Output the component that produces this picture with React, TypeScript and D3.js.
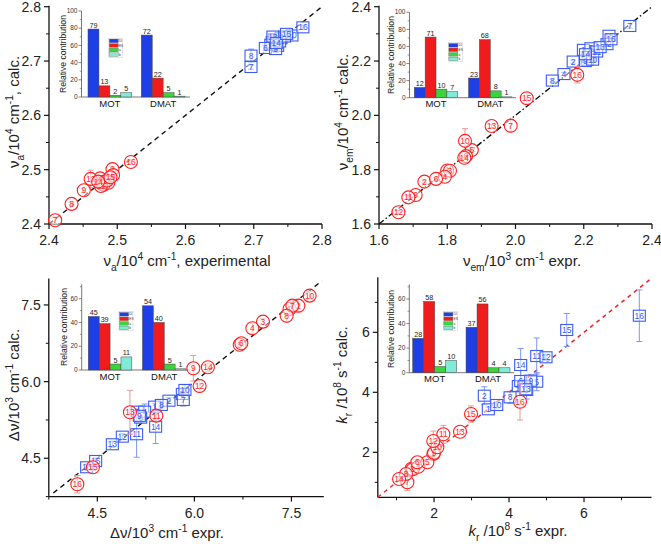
import React from 'react';
import * as d3 from 'd3';

// ---------- data ----------
const compoundLabels = ['1','2','3','4','5','6','7','8','9','10','11','12','13','14','15','16'];

// Panel 1: nu_a (10^4 cm^-1), experimental vs calc.
const p1RedX = [2.478,2.493,2.475,2.482,2.494,2.480,2.409,2.433,2.451,2.487,2.476,2.461,2.485,2.472,2.490,2.520];
const p1RedY = [2.474,2.501,2.484,2.478,2.490,2.472,2.407,2.437,2.462,2.476,2.470,2.483,2.480,2.478,2.486,2.514];
const p1RedErr = [0.004,0.004,0.004,0.004,0.004,0.004,0.006,0.004,0.004,0.005,0.004,0.016,0.004,0.004,0.004,0.004];
const p1BlueX = [2.727,2.730,2.735,2.725,2.740,2.717,2.696,2.696,2.732,2.756,2.738,2.745,2.728,2.733,2.748,2.772];
const p1BlueY = [2.735,2.740,2.728,2.730,2.742,2.724,2.689,2.710,2.722,2.747,2.736,2.745,2.745,2.733,2.750,2.762];
const p1BlueErr = [0.005,0.005,0.005,0.005,0.005,0.005,0.004,0.012,0.006,0.006,0.005,0.005,0.005,0.005,0.005,0.004];

// Panel 2: nu_em
const p2RedX = [1.800,1.733,1.808,1.793,1.872,1.767,1.986,1.855,1.7075,1.852,1.686,1.657,1.930,1.850,2.033,2.181];
const p2RedY = [1.797,1.756,1.796,1.774,1.872,1.766,1.962,1.850,1.707,1.906,1.698,1.643,1.961,1.844,2.063,2.149];
const p2RedErr = [0.006,0.006,0.006,0.006,0.006,0.006,0.02,0.006,0.006,0.045,0.006,0.006,0.006,0.006,0.02,0.03];
const p2BlueX = [2.199,2.169,2.210,2.142,2.221,2.215,2.335,2.108,2.205,2.226,2.238,2.268,2.248,2.205,2.274,2.280];
const p2BlueY = [2.241,2.198,2.205,2.152,2.247,2.215,2.329,2.128,2.200,2.205,2.235,2.262,2.251,2.225,2.293,2.280];
const p2BlueErr = [0.006,0.006,0.006,0.006,0.006,0.006,0.008,0.006,0.006,0.006,0.006,0.006,0.006,0.006,0.006,0.006];

// Panel 3: Stokes shift (10^3 cm^-1)
const p3RedX = [7.47,7.607,7.060,6.896,6.70,6.726,7.514,7.426,5.984,7.781,5.412,6.081,5.004,6.209,4.432,4.191];
const p3RedY = [7.42,7.486,7.173,7.044,6.72,6.750,7.486,7.290,6.261,7.682,5.334,5.915,5.400,6.280,4.324,3.991];
const p3RedErr = [0.08,0.12,0.06,0.1,0.06,0.06,0.1,0.12,0.25,0.08,0.08,0.12,0.43,0.08,0.06,0.17];
const p3BlueX = [5.386,5.607,5.118,5.231,5.814,5.169,5.829,5.489,5.15,5.854,5.107,4.886,4.732,5.401,4.474,4.335];
const p3BlueY = [5.510,5.627,5.412,5.412,5.758,5.295,5.641,5.543,5.33,5.837,4.970,4.923,4.774,5.118,4.447,4.324];
const p3BlueErr = [0.06,0.06,0.06,0.15,0.1,0.1,0.12,0.06,0.06,0.1,0.45,0.06,0.06,0.33,0.06,0.06];

// Panel 4: k_r (10^8 s^-1)
const p4RedX = [1.40,1.98,1.432,1.581,1.821,1.555,1.288,1.253,2.0,2.089,2.249,1.98,2.693,1.067,2.987,4.293];
const p4RedY = [1.45,1.943,1.433,1.52,1.667,1.667,1.0,1.277,1.98,2.167,2.6,2.377,2.687,1.11,3.277,3.687];
const p4RedErr = [0.08,0.08,0.08,0.08,0.08,0.1,0.28,0.08,0.08,0.1,0.3,0.33,0.08,0.08,0.27,0.61];
const p4BlueX = [3.448,3.341,4.472,4.248,4.739,4.311,4.40,4.027,4.579,3.672,4.739,4.987,4.45,4.311,5.539,7.475];
const p4BlueY = [3.433,3.887,4.077,4.21,4.353,4.377,4.20,3.833,4.387,3.577,5.21,5.167,4.10,4.91,6.077,6.553];
const p4BlueErr = [0.08,0.3,0.3,0.15,0.3,0.35,0.2,0.2,0.2,0.1,0.6,0.1,0.2,0.55,0.55,0.86];

// Insets: relative contribution
const insetGroups = ['MOT', 'DMAT'];
const insetSeries = ['DI', 'ES', 'a', 'b'];
const insetColors = ['#1f3fe6', '#ee1c1c', '#3cd43c', '#80ecd8'];
const p1InsetMOT = [79, 13, 2, 5];
const p1InsetDMAT = [72, 22, 5, 1];
const p2InsetMOT = [12, 71, 10, 7];
const p2InsetDMAT = [23, 68, 8, 1];
const p3InsetMOT = [45, 39, 5, 11];
const p3InsetDMAT = [54, 40, 5, 1];
const p4InsetMOT = [28, 58, 5, 10];
const p4InsetDMAT = [37, 56, 4, 4];

// ---------- styles ----------
const FONT = "'Liberation Sans', Arial, sans-serif";
const RED = '#ff1f1f';
const BLUE = '#3a5cf2';
const RED_ERR = '#f39595';
const BLUE_ERR = '#7d97f2';

type Seg = { t: string; k?: 'sub' | 'sup'; it?: boolean };

function Rich({ segs, size }: { segs: Seg[]; size: number }) {
  let cur = 0;
  const out = segs.map((s, i) => {
    const target = s.k === 'sub' ? size * 0.3 : s.k === 'sup' ? -size * 0.42 : 0;
    const dy = target - cur;
    cur = target;
    return (
      <tspan key={i} dy={dy} fontSize={s.k ? size * 0.68 : size} fontStyle={s.it ? 'italic' : 'normal'}>
        {s.t}
      </tspan>
    );
  });
  return <>{out}</>;
}

type InsetCfg = {
  axisX: number; axisEnd: number; y0: number; yTop: number; yMax: number;
  yTicks: number[]; yMinor: number[]; band: [number, number]; pad: number;
  labelX: number; labelY: number; legend: [number, number];
  mot: number[]; dmat: number[];
};

function Inset({ c }: { c: InsetCfg }) {
  const y = d3.scaleLinear().domain([0, c.yMax]).range([c.y0, c.yTop]);
  const g = d3.scaleBand<string>().domain(insetGroups).range(c.band).paddingInner(c.pad).paddingOuter(0);
  const s = d3.scaleBand<string>().domain(insetSeries).range([0, g.bandwidth()]);
  const vals: Record<string, number[]> = { MOT: c.mot, DMAT: c.dmat };
  const axisCol = '#555';
  return (
    <g fontFamily={FONT}>
      <line x1={c.axisX} x2={c.axisX} y1={c.y0} y2={y(c.yMax)} stroke={axisCol} strokeWidth={0.8} />
      <line x1={c.axisX} x2={c.axisEnd} y1={c.y0} y2={c.y0} stroke={axisCol} strokeWidth={0.8} />
      {c.yTicks.map((t) => (
        <g key={'t' + t}>
          <line x1={c.axisX - 3} x2={c.axisX} y1={y(t)} y2={y(t)} stroke={axisCol} strokeWidth={0.7} />
          <text x={c.axisX - 4} y={y(t)} dy="0.33em" textAnchor="end" fontSize={6.5} fill="#333">{t}</text>
        </g>
      ))}
      {c.yMinor.map((t) => (
        <line key={'m' + t} x1={c.axisX - 1.8} x2={c.axisX} y1={y(t)} y2={y(t)} stroke={axisCol} strokeWidth={0.6} />
      ))}
      <text transform={`translate(${c.labelX},${c.labelY}) rotate(-90)`} textAnchor="middle" fontSize={8.6} fill="#222">
        Relative contribution
      </text>
      {insetGroups.map((grp) => (
        <g key={grp}>
          {insetSeries.map((ser, i) => {
            const v = vals[grp][i];
            const bx = (g(grp) as number) + (s(ser) as number);
            return (
              <g key={ser}>
                <rect x={bx} y={y(v)} width={s.bandwidth()} height={c.y0 - y(v)} fill={insetColors[i]} stroke="#444" strokeWidth={0.5} />
                <text x={bx + s.bandwidth() / 2} y={y(v) - 1.5} textAnchor="middle" fontSize={7.2} fill="#222">{v}</text>
              </g>
            );
          })}
          <text x={(g(grp) as number) + g.bandwidth() / 2} y={c.y0 + 9.5} textAnchor="middle" fontSize={9.5} fill="#111">{grp}</text>
        </g>
      ))}
      <g transform={`translate(${c.legend[0]},${c.legend[1]})`}>
        <rect x={0} y={0} width={14} height={19} fill="#fff" stroke="#bbb" strokeWidth={0.4} />
        {insetSeries.map((ser, i) => (
          <g key={ser}>
            <rect x={0.6} y={0.8 + i * 4.55} width={9} height={3.6} fill={insetColors[i]} stroke="#555" strokeWidth={0.3} />
            <text x={10.3} y={0.8 + i * 4.55 + 3} fontSize={3.2} fill="#333">{ser}</text>
          </g>
        ))}
      </g>
    </g>
  );
}

type PanelCfg = {
  xDomain: [number, number]; yDomain: [number, number];
  xRange: [number, number]; yRange: [number, number];
  xTicks: number[]; xMinor: number[]; yTicks: number[]; yMinor: number[];
  fmt: (v: number) => string;
  diag: [number, number]; diagColor: string; diagDash: string;
  red: { x: number[]; y: number[]; e: number[] };
  blue: { x: number[]; y: number[]; e: number[] };
  xTitle: Seg[]; xTitlePos: [number, number];
  yTitle: Seg[]; yTitlePos: [number, number];
  inset: InsetCfg;
};

function Panel({ c }: { c: PanelCfg }) {
  const x = d3.scaleLinear().domain(c.xDomain).range(c.xRange);
  const y = d3.scaleLinear().domain(c.yDomain).range(c.yRange);
  const [xl, xr] = c.xRange;
  const [yb, yt] = c.yRange;
  const diagPath = d3.line()([
    [x(c.diag[0]), y(c.diag[0])],
    [x(c.diag[1]), y(c.diag[1])],
  ]) as string;

  const errBars = (ser: { x: number[]; y: number[]; e: number[] }, col: string) =>
    ser.x.map((xv, i) => {
      const px = x(xv);
      const top = y(ser.y[i] + ser.e[i]);
      const bot = y(ser.y[i] - ser.e[i]);
      return (
        <g key={'e' + i} stroke={col} strokeWidth={1}>
          <line x1={px} x2={px} y1={top} y2={bot} />
          <line x1={px - 3} x2={px + 3} y1={top} y2={top} />
          <line x1={px - 3} x2={px + 3} y1={bot} y2={bot} />
        </g>
      );
    });

  return (
    <g fontFamily={FONT}>
      {/* axes */}
      <line x1={xl} x2={xr} y1={yb} y2={yb} stroke="#111" strokeWidth={1.3} />
      <line x1={xl} x2={xl} y1={yb} y2={yt - 1} stroke="#111" strokeWidth={1.3} />
      {c.xTicks.map((t) => (
        <g key={'xt' + t}>
          <line x1={x(t)} x2={x(t)} y1={yb} y2={yb + 5} stroke="#111" strokeWidth={1.2} />
          <text x={x(t)} y={yb + 21} textAnchor="middle" fontSize={14} fill="#222">{c.fmt(t)}</text>
        </g>
      ))}
      {c.xMinor.map((t) => (
        <line key={'xm' + t} x1={x(t)} x2={x(t)} y1={yb} y2={yb + 3} stroke="#111" strokeWidth={1} />
      ))}
      {c.yTicks.map((t) => (
        <g key={'yt' + t}>
          <line x1={xl - 5} x2={xl} y1={y(t)} y2={y(t)} stroke="#111" strokeWidth={1.2} />
          <text x={xl - 8} y={y(t)} dy="0.35em" textAnchor="end" fontSize={14} fill="#222">{c.fmt(t)}</text>
        </g>
      ))}
      {c.yMinor.map((t) => (
        <line key={'ym' + t} x1={xl - 3} x2={xl} y1={y(t)} y2={y(t)} stroke="#111" strokeWidth={1} />
      ))}
      {/* titles */}
      <text x={c.xTitlePos[0]} y={c.xTitlePos[1]} textAnchor="middle" fill="#222">
        <Rich segs={c.xTitle} size={15} />
      </text>
      <text transform={`translate(${c.yTitlePos[0]},${c.yTitlePos[1]}) rotate(-90)`} textAnchor="middle" fill="#222">
        <Rich segs={c.yTitle} size={15} />
      </text>
      {/* inset */}
      <Inset c={c.inset} />
      {/* diagonal */}
      <path d={diagPath} stroke={c.diagColor} strokeWidth={1.4} strokeDasharray={c.diagDash} fill="none" />
      {/* blue series */}
      {errBars(c.blue, BLUE_ERR)}
      {c.blue.x.map((xv, i) => (
        <g key={'b' + i} transform={`translate(${x(xv)},${y(c.blue.y[i])})`}>
          <rect x={-6} y={-5.5} width={12} height={11} fill="#fff" fillOpacity={0.5} stroke={BLUE} strokeWidth={1.1} />
          <text y={0} dy="0.35em" textAnchor="middle" fontSize={8.5} fill={BLUE}>{compoundLabels[i]}</text>
        </g>
      ))}
      {/* red series */}
      {errBars(c.red, RED_ERR)}
      {c.red.x.map((xv, i) => (
        <g key={'r' + i} transform={`translate(${x(xv)},${y(c.red.y[i])})`}>
          <circle r={6.5} fill="#fff" fillOpacity={0.5} stroke={RED} strokeWidth={1.1} />
          <text y={0} dy="0.35em" textAnchor="middle" fontSize={8.5} fill={RED}>{compoundLabels[i]}</text>
        </g>
      ))}
    </g>
  );
}

const panels: PanelCfg[] = [
  {
    xDomain: [2.4, 2.8], yDomain: [2.4, 2.8], xRange: [49, 322], yRange: [224, 6.7],
    xTicks: [2.4, 2.5, 2.6, 2.7, 2.8], xMinor: [2.45, 2.55, 2.65, 2.75],
    yTicks: [2.4, 2.5, 2.6, 2.7, 2.8], yMinor: [2.45, 2.55, 2.65, 2.75],
    fmt: d3.format('.1f'), diag: [2.4, 2.8], diagColor: '#111', diagDash: '5,4',
    red: { x: p1RedX, y: p1RedY, e: p1RedErr }, blue: { x: p1BlueX, y: p1BlueY, e: p1BlueErr },
    xTitle: [{ t: 'ν' }, { t: 'a', k: 'sub' }, { t: '/10' }, { t: '4', k: 'sup' }, { t: ' cm' }, { t: '-1', k: 'sup' }, { t: ', experimental' }],
    xTitlePos: [187, 266],
    yTitle: [{ t: 'ν' }, { t: 'a', k: 'sub' }, { t: '/10' }, { t: '4', k: 'sup' }, { t: ' cm' }, { t: '-1', k: 'sup' }, { t: ', calc.' }],
    yTitlePos: [19, 112],
    inset: {
      axisX: 81.5, axisEnd: 190, y0: 97, yTop: 11, yMax: 100, yTicks: [0, 20, 40, 60, 80, 100], yMinor: [10, 30, 50, 70, 90],
      band: [88, 185], pad: 0.18, labelX: 66, labelY: 54, legend: [108.7, 38.3], mot: p1InsetMOT, dmat: p1InsetDMAT,
    },
  },
  {
    xDomain: [1.6, 2.4], yDomain: [1.6, 2.4], xRange: [379, 652], yRange: [224, 6.7],
    xTicks: [1.6, 1.8, 2.0, 2.2, 2.4], xMinor: [1.7, 1.9, 2.1, 2.3],
    yTicks: [1.6, 1.8, 2.0, 2.2, 2.4], yMinor: [1.7, 1.9, 2.1, 2.3],
    fmt: d3.format('.1f'), diag: [1.6, 2.4], diagColor: '#111', diagDash: '6,2.5,1.5,2.5',
    red: { x: p2RedX, y: p2RedY, e: p2RedErr }, blue: { x: p2BlueX, y: p2BlueY, e: p2BlueErr },
    xTitle: [{ t: 'ν' }, { t: 'em', k: 'sub' }, { t: '/10' }, { t: '3', k: 'sup' }, { t: ' cm' }, { t: '-1', k: 'sup' }, { t: ' expr.' }],
    xTitlePos: [522, 266],
    yTitle: [{ t: 'ν' }, { t: 'em', k: 'sub' }, { t: '/10' }, { t: '4', k: 'sup' }, { t: ' cm' }, { t: '-1', k: 'sup' }, { t: ' calc.' }],
    yTitlePos: [348, 112],
    inset: {
      axisX: 409.5, axisEnd: 516, y0: 97.7, yTop: 12.3, yMax: 100, yTicks: [0, 20, 40, 60, 80, 100], yMinor: [10, 30, 50, 70, 90],
      band: [414.3, 512], pad: 0.2, labelX: 394, labelY: 55, legend: [448.3, 42.7], mot: p2InsetMOT, dmat: p2InsetDMAT,
    },
  },
  {
    xDomain: [3.75, 8.0], yDomain: [3.75, 8.0], xRange: [48.8, 323.8], yRange: [496.6, 279.4],
    xTicks: [4.5, 6.0, 7.5], xMinor: [3.75, 5.25, 6.75],
    yTicks: [4.5, 6.0, 7.5], yMinor: [3.75, 5.25, 6.75],
    fmt: d3.format('.1f'), diag: [3.82, 7.97], diagColor: '#111', diagDash: '5,4',
    red: { x: p3RedX, y: p3RedY, e: p3RedErr }, blue: { x: p3BlueX, y: p3BlueY, e: p3BlueErr },
    xTitle: [{ t: 'Δν/10' }, { t: '3', k: 'sup' }, { t: ' cm' }, { t: '-1', k: 'sup' }, { t: ' expr.' }],
    xTitlePos: [167, 538],
    yTitle: [{ t: 'Δν/10' }, { t: '3', k: 'sup' }, { t: ' cm' }, { t: '-1', k: 'sup' }, { t: ' calc.' }],
    yTitlePos: [19, 385],
    inset: {
      axisX: 81.7, axisEnd: 190, y0: 370, yTop: 284.4, yMax: 72, yTicks: [0, 20, 40, 60], yMinor: [10, 30, 50, 70],
      band: [88.3, 186], pad: 0.196, labelX: 67, labelY: 327, legend: [119, 311.7], mot: p3InsetMOT, dmat: p3InsetDMAT,
    },
  },
  {
    xDomain: [0.5, 7.8], yDomain: [0.5, 7.8], xRange: [377.8, 651.5], yRange: [497.3, 278.3],
    xTicks: [2, 4, 6], xMinor: [1, 3, 5, 7],
    yTicks: [2, 4, 6], yMinor: [1, 3, 5, 7],
    fmt: d3.format('d'), diag: [0.5, 7.8], diagColor: '#ee2222', diagDash: '4,4',
    red: { x: p4RedX, y: p4RedY, e: p4RedErr }, blue: { x: p4BlueX, y: p4BlueY, e: p4BlueErr },
    xTitle: [{ t: 'k', it: true }, { t: 'r', k: 'sub' }, { t: ' /10' }, { t: '8', k: 'sup' }, { t: ' s' }, { t: '-1', k: 'sup' }, { t: ' expr.' }],
    xTitlePos: [518, 536],
    yTitle: [{ t: 'k', it: true }, { t: 'r', k: 'sub' }, { t: ' /10' }, { t: '8', k: 'sup' }, { t: ' s' }, { t: '-1', k: 'sup' }, { t: ' calc.' }],
    yTitlePos: [347, 375],
    inset: {
      axisX: 409.3, axisEnd: 514, y0: 372.7, yTop: 284.3, yMax: 72, yTicks: [0, 20, 40, 60], yMinor: [10, 30, 50, 70],
      band: [412.7, 510], pad: 0.176, labelX: 394, labelY: 329, legend: [443.3, 311.7], mot: p4InsetMOT, dmat: p4InsetDMAT,
    },
  },
];

export default function App() {
  return (
    <svg width={661} height={544} style={{ position: 'absolute', left: 0, top: 0, background: '#fff' }}>
      <rect width={661} height={544} fill="#fff" />
      {panels.map((p, i) => (
        <Panel key={i} c={p} />
      ))}
    </svg>
  );
}
